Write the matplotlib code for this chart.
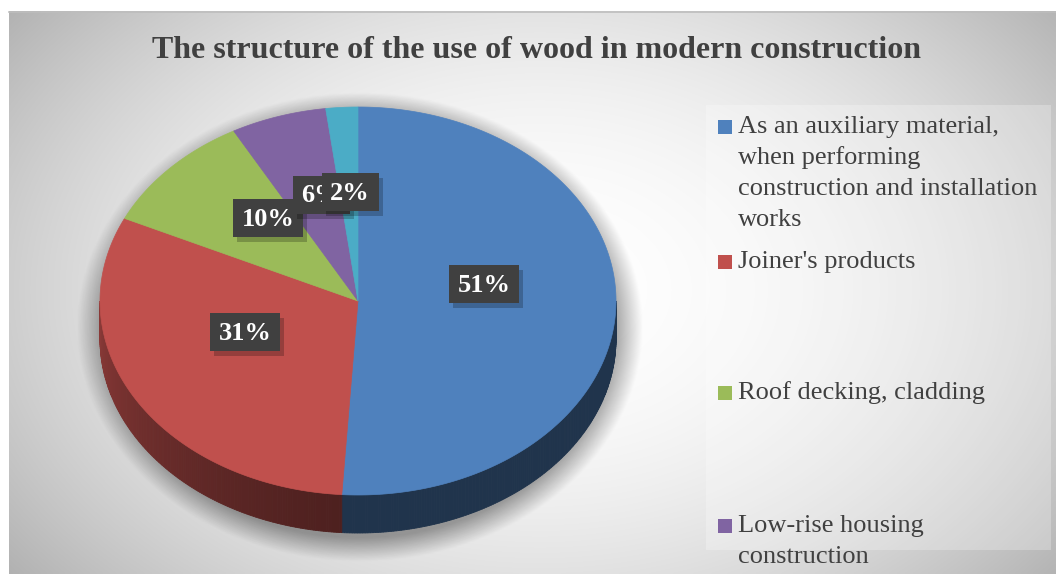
import numpy as np
import matplotlib
matplotlib.use("Agg")
import matplotlib.pyplot as plt
from matplotlib.patches import Polygon, Rectangle

# ---- data ----
title = "The structure of the use of wood in modern construction"
legend_labels = [
    "As an auxiliary material,\nwhen performing\nconstruction and installation\nworks",
    "Joiner's products",
    "Roof decking, cladding",
    "Low-rise housing\nconstruction",
]
values = [51, 31, 10, 6, 2]
value_labels = ["51%", "31%", "10%", "6%", "2%"]
colors = ["#4f81bd", "#c0504d", "#9bbb59", "#8064a2", "#4bacc6"]

# ---- layout / style (pixels) ----
W, H = 1056, 574
CX, CY, A, B, DEPTH = 358, 301, 258, 194, 38
label_xy = [(484, 284), (245, 332), (268, 218), (321, 195), (350, 192)]
label_box_w = {3: 70, 2: 57}
label_box_h = 38
SERIF = ["Liberation Serif", "DejaVu Serif"]

fig = plt.figure(figsize=(W / 100, H / 100), dpi=100)
fig.patch.set_facecolor("white")
ax = fig.add_axes([0, 0, 1, 1])
ax.set_xlim(0, W)
ax.set_ylim(H, 0)
ax.axis("off")

# background radial gradient
x0, y0 = 9, 11
gx = np.linspace(x0, W, 400)
gy = np.linspace(y0, H, 220)
XX, YY = np.meshgrid(gx, gy)
d = np.sqrt(((XX - 540) / 620) ** 2 + ((YY - 290) / 430) ** 2)
g = 1.0 - 0.26 * np.clip(d, 0, 1.15) ** 2
ax.imshow(np.dstack([g, g, g]), extent=(x0, W, H, y0), aspect="auto",
          interpolation="bilinear", zorder=0)
ax.plot([x0, W], [y0 + 0.5, y0 + 0.5], color="#bdbdbd", lw=1.2, zorder=1)

# shadow below pie
sx = np.linspace(60, 660, 300)
sy = np.linspace(90, 574, 240)
SX, SY = np.meshgrid(sx, sy)
sd = np.sqrt(((SX - 360) / (A + 5)) ** 2 + ((SY - (CY + DEPTH / 2 + 7)) / (B + DEPTH / 2 + 5)) ** 2)
salpha = 0.36 * np.clip((1.08 - sd) / 0.11, 0, 1)
shadow = np.zeros((len(sy), len(sx), 4))
shadow[..., 3] = salpha
ax.imshow(shadow, extent=(60, 660, 574, 90), aspect="auto",
          interpolation="bilinear", zorder=1)

# slice angles (clockwise from 12 o'clock)
fr = np.array(values, dtype=float) / np.sum(values)
ends = np.cumsum(fr) * 2 * np.pi
starts = ends - fr * 2 * np.pi


def pt(t, dy=0.0):
    return CX + A * np.sin(t), CY - B * np.cos(t) + dy


# side walls (visible front half)
for s, e, col in zip(starts, ends, colors):
    lo, hi = max(s, np.pi / 2), min(e, 3 * np.pi / 2)
    if hi <= lo:
        continue
    ts = np.linspace(lo, hi, max(3, int((hi - lo) / 0.01)))
    base = np.array(matplotlib.colors.to_rgb(col))
    for t1, t2 in zip(ts[:-1], ts[1:]):
        tm = 0.5 * (t1 + t2)
        f = 0.40 + 0.32 * max(0.0, (tm - np.pi) / (np.pi / 2)) ** 1.3
        c = np.clip(base * f, 0, 1)
        p1, p2 = pt(t1), pt(t2)
        q2, q1 = pt(t2, DEPTH), pt(t1, DEPTH)
        ax.add_patch(Polygon([p1, p2, q2, q1], closed=True, facecolor=c,
                             edgecolor=c, lw=0.6, zorder=2))

# top face
for s, e, col in zip(starts, ends, colors):
    ts = np.linspace(s, e, max(4, int((e - s) / 0.01)))
    pts = [(CX, CY)] + [pt(t) for t in ts]
    ax.add_patch(Polygon(pts, closed=True, facecolor=col, edgecolor=col,
                         lw=0.5, zorder=3))

# data labels (later labels drawn on top of earlier ones)
for i, ((lx, ly), lab) in enumerate(zip(label_xy, value_labels)):
    bw = label_box_w[len(lab)]
    z = 5 + 3 * i
    ax.add_patch(Rectangle((lx - bw / 2 + 4, ly - label_box_h / 2 + 5), bw, label_box_h,
                           facecolor=(0, 0, 0, 0.22), edgecolor="none", zorder=z))
    ax.add_patch(Rectangle((lx - bw / 2, ly - label_box_h / 2), bw, label_box_h,
                           facecolor="#404040", edgecolor="none", zorder=z + 1))
    ax.text(lx, ly + 1, lab, color="white", fontsize=19, fontweight="bold",
            family=SERIF, ha="center", va="center", zorder=z + 2)

# title
ax.text(537, 50, title, color="#404040", fontsize=23, fontweight="bold",
        family=SERIF, ha="center", va="center", zorder=30)

# legend
ax.add_patch(Rectangle((706, 105), 345, 445, facecolor=(1, 1, 1, 0.25),
                       edgecolor="none", zorder=2))
legend_y = [127, 262, 393, 526]
line_h = 31
for lab, col, ly in zip(legend_labels, colors, legend_y):
    ax.add_patch(Rectangle((718, ly - 7), 14, 14, facecolor=col, edgecolor="none", zorder=30))
    for i, line in enumerate(lab.split("\n")):
        ax.text(738, ly + i * line_h, line, color="#404040", fontsize=19,
                family=SERIF, ha="left", va="center", zorder=30)

fig.savefig("out.png", dpi=100)
